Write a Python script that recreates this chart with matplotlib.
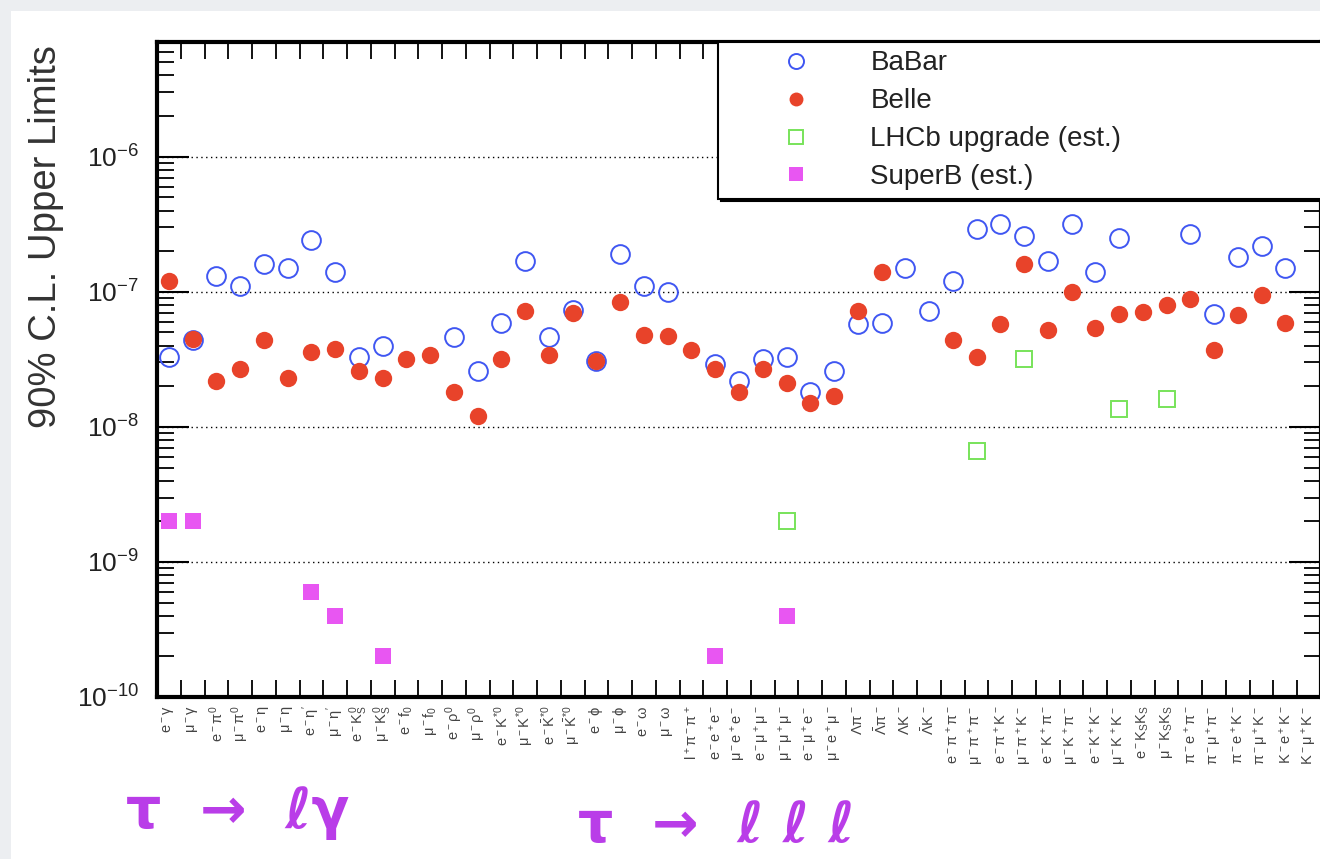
import matplotlib
matplotlib.use('Agg')
import matplotlib.pyplot as plt
import matplotlib.patches as patches
import matplotlib.ticker as ticker
import numpy as np

nan = np.nan

# tau- decay modes along the x axis (mathtext)
modes = [r'e^-\gamma', r'\mu^-\gamma', r'e^-\pi^0', r'\mu^-\pi^0', r'e^-\eta', r'\mu^-\eta',
         r"e^-\eta'", r"\mu^-\eta'", r'e^-K_S^0', r'\mu^-K_S^0', r'e^-f_0', r'\mu^-f_0',
         r'e^-\rho^0', r'\mu^-\rho^0', r'e^-K^{*0}', r'\mu^-K^{*0}',
         r'e^-\bar{K}^{*0}', r'\mu^-\bar{K}^{*0}',
         r'e^-\phi', r'\mu^-\phi', r'e^-\omega', r'\mu^-\omega', r'l^+\pi^-\pi^+',
         r'e^-e^+e^-', r'\mu^-e^+e^-', r'e^-\mu^+\mu^-', r'\mu^-\mu^+\mu^-',
         r'e^-\mu^+e^-', r'\mu^-e^+\mu^-',
         r'\Lambda\pi^-', r'\bar{\Lambda}\pi^-', r'\Lambda K^-', r'\bar{\Lambda}K^-',
         r'e^-\pi^+\pi^-', r'\mu^-\pi^+\pi^-', r'e^-\pi^+K^-', r'\mu^-\pi^+K^-',
         r'e^-K^+\pi^-', r'\mu^-K^+\pi^-', r'e^-K^+K^-', r'\mu^-K^+K^-',
         r'e^-K_SK_S', r'\mu^-K_SK_S', r'\pi^-e^+\pi^-', r'\pi^-\mu^+\pi^-',
         r'\pi^-e^+K^-', r'\pi^-\mu^+K^-', r'K^-e^+K^-', r'K^-\mu^+K^-']

# 90% C.L. upper limits, one value per mode (nan = no entry)
babar = [3.3e-8, 4.4e-8, 1.3e-7, 1.1e-7, 1.6e-7, 1.5e-7, 2.4e-7, 1.4e-7, 3.3e-8, 4.0e-8,
         nan, nan, 4.6e-8, 2.6e-8, 5.9e-8, 1.7e-7, 4.6e-8, 7.3e-8, 3.1e-8, 1.9e-7,
         1.1e-7, 1.0e-7, nan, 2.9e-8, 2.2e-8, 3.2e-8, 3.3e-8, 1.8e-8, 2.6e-8, 5.8e-8,
         5.9e-8, 1.5e-7, 7.2e-8, 1.2e-7, 2.9e-7, 3.2e-7, 2.6e-7, 1.7e-7, 3.2e-7, 1.4e-7,
         2.5e-7, nan, nan, 2.7e-7, 6.9e-8, 1.8e-7, 2.2e-7, 1.5e-7, nan]
belle = [1.2e-7, 4.5e-8, 2.2e-8, 2.7e-8, 4.4e-8, 2.3e-8, 3.6e-8, 3.8e-8, 2.6e-8, 2.3e-8,
         3.2e-8, 3.4e-8, 1.8e-8, 1.2e-8, 3.2e-8, 7.2e-8, 3.4e-8, 7.0e-8, 3.1e-8, 8.4e-8,
         4.8e-8, 4.7e-8, 3.7e-8, 2.7e-8, 1.8e-8, 2.7e-8, 2.1e-8, 1.5e-8, 1.7e-8, 7.2e-8,
         1.4e-7, nan, nan, 4.4e-8, 3.3e-8, 5.8e-8, 1.6e-7, 5.2e-8, 1.0e-7, 5.4e-8,
         6.8e-8, 7.1e-8, 8.0e-8, 8.8e-8, 3.7e-8, 6.7e-8, 9.4e-8, 5.9e-8, nan]
lhcb = [nan] * 49
lhcb[26] = 2e-9
lhcb[34] = 6.6e-9
lhcb[36] = 3.2e-8
lhcb[40] = 1.35e-8
lhcb[42] = 1.6e-8
superb = [nan] * 49
superb[0] = 2e-9
superb[1] = 2e-9
superb[6] = 6e-10
superb[7] = 4e-10
superb[9] = 2e-10
superb[23] = 2e-10
superb[26] = 4e-10

plt.rcParams['font.family'] = ['Liberation Sans', 'DejaVu Sans']
plt.rcParams['mathtext.fontset'] = 'custom'
plt.rcParams['mathtext.rm'] = 'Liberation Sans'
plt.rcParams['mathtext.it'] = 'Liberation Sans'
plt.rcParams['mathtext.bf'] = 'Liberation Sans:bold'

W, H = 1320, 859
fig = plt.figure(figsize=(W / 100, H / 100), dpi=100, facecolor='#eceef1')
# white slide panel, kept behind the axes
fig.patches.append(patches.Rectangle((11 / W, 0), 1, 1 - 11 / H, transform=fig.transFigure,
                                     facecolor='white', edgecolor='none', zorder=-5))

ax = fig.add_axes([157 / W, 162 / H, 1164 / W, 655 / H])
x = np.arange(len(modes)) + 0.5

ax.plot(x, babar, 'o', ls='none', mfc='none', mec='#3f56f2', ms=13.5, mew=1.4,
        label='BaBar', zorder=3)
ax.plot(x, belle, 'o', ls='none', color='#e8432a', ms=12.5, mew=0,
        label='Belle', zorder=4)
ax.plot(x, lhcb, 's', ls='none', mfc='none', mec='#78e35a', ms=12, mew=1.4,
        label='LHCb upgrade (est.)', zorder=5)
ax.plot(x, superb, 's', ls='none', color='#e856f2', ms=12, mew=0,
        label='SuperB (est.)', zorder=5)

ax.set_yscale('log')
ax.set_ylim(1e-10, 10 ** -5.15)
ax.set_xlim(0, len(modes))

# bin edges carry the ticks, bin centres carry the labels
ax.set_xticks(np.arange(len(modes) + 1))
ax.set_xticks(x, ['$' + m + '$' for m in modes], minor=True)
ax.tick_params(axis='x', which='major', direction='in', length=12, width=1.3,
               top=True, bottom=True, labelbottom=False)
ax.tick_params(axis='x', which='minor', length=0, pad=6, labelsize=10.5,
               labelcolor='#444', labelrotation=90)

ax.yaxis.set_major_locator(ticker.LogLocator(base=10, numticks=20))
ax.yaxis.set_minor_locator(ticker.LogLocator(base=10, subs=np.arange(2, 10), numticks=20))
ax.yaxis.set_minor_formatter(ticker.NullFormatter())
ax.tick_params(axis='y', which='major', direction='in', length=23, width=1.5,
               left=True, right=True, labelsize=19, labelcolor='#222', pad=13)
ax.tick_params(axis='y', which='minor', direction='in', length=12, width=1.3,
               left=True, right=True)
ax.yaxis.grid(True, which='major', ls=(0, (1, 2.5)), color='k', lw=1.0)

for s in ax.spines.values():
    s.set_linewidth(3)

ax.set_ylabel('90% C.L. Upper Limits', fontsize=27.5, color='#333', loc='top')
ax.yaxis.set_label_coords(-0.080, 0.995)

leg = ax.legend(loc='upper left', bbox_to_anchor=(0.482, 0.5, 0.6, 0.5), mode='expand',
                borderaxespad=0, fontsize=20, frameon=True, fancybox=False,
                edgecolor='k', framealpha=1, borderpad=0.3, handlelength=5.01,
                handletextpad=0.17, labelspacing=0.43, numpoints=1, markerscale=0.8,
                shadow={'color': 'k', 'alpha': 1})
leg.get_frame().set_linewidth(1.5)
for t in leg.get_texts():
    t.set_color('#222')

purple = '#b93de8'
fig.text(126 / W, 1 - 828 / H, 'τ  →  ℓγ', fontsize=40, fontweight='bold', color=purple,
         family='DejaVu Sans', va='baseline')
fig.text(578 / W, 1 - 842 / H, 'τ  →  ℓ ℓ ℓ', fontsize=40, fontweight='bold', color=purple,
         family='DejaVu Sans', va='baseline')

fig.savefig('out.png', dpi=100, facecolor=fig.get_facecolor())
